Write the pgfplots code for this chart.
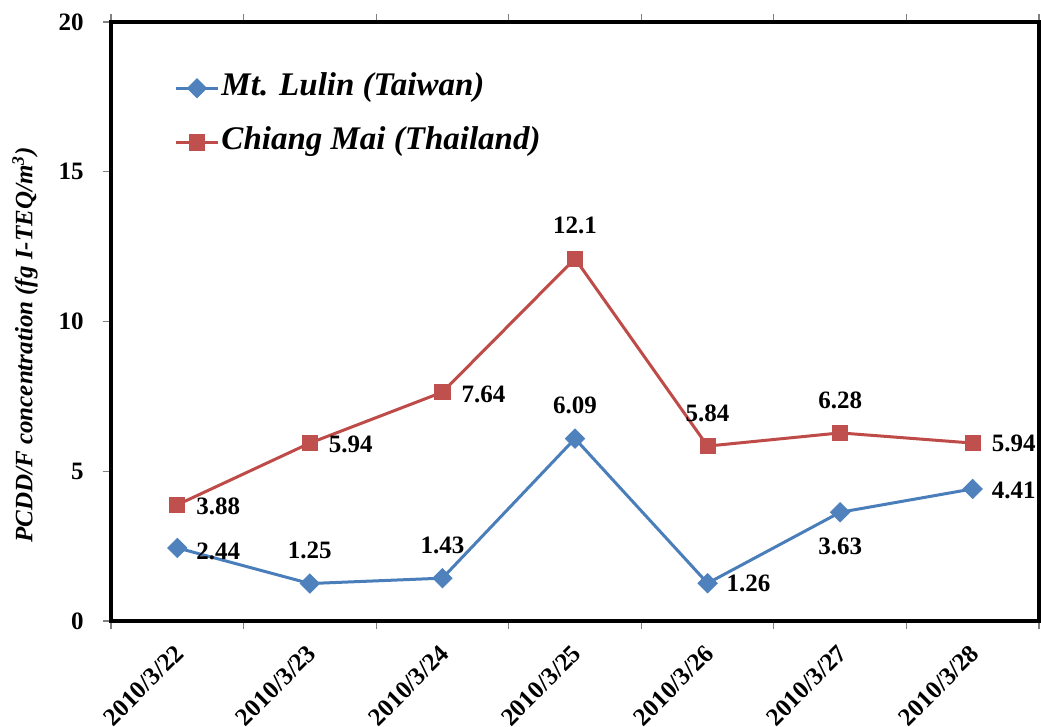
\documentclass[border=0pt]{standalone}
\usepackage{fontspec}
\setmainfont{Liberation Serif}
\usepackage{pgfplots}
\pgfplotsset{compat=1.18}

\definecolor{lulinline}{RGB}{74,126,187}
\definecolor{lulinmark}{RGB}{79,129,189}
\definecolor{cmline}{RGB}{190,75,72}
\definecolor{cmmark}{RGB}{192,80,77}

% columns: day index, concentration, label offset (dx, dy in pt)
\pgfplotstableread{
x y dx dy
0 2.44 20.5 -1.5
1 1.25 0 16.5
2 1.43 0 16.5
3 6.09 0 16.5
4 1.26 20.5 0
5 3.63 0 -17
6 4.41 20.5 -1
}\lulin

\pgfplotstableread{
x y dx dy
0 3.88 20.5 -1
1 5.94 20.5 -0.5
2 7.64 20.5 -1
3 12.1 0 16.5
4 5.84 0 16.5
5 6.28 0 16.5
6 5.94 20.5 0
}\chiangmai

\pgfplotsset{
  value labels/.style={
    nodes near coords,
    visualization depends on={\thisrow{dx}\as\labdx},
    visualization depends on={\thisrow{dy}\as\labdy},
    every node near coord/.append style={font=\bfseries\fontsize{12.5}{15}\selectfont,
      text=black, anchor=center, inner sep=0pt, xshift=\labdx pt, yshift=\labdy pt},
  },
}

\begin{document}
\begin{tikzpicture}
\begin{axis}[
  at={(0,0)}, anchor=south west,
  scale only axis, width=464pt, height=299.5pt,
  xmin=-0.5, xmax=6.5, ymin=0, ymax=20,
  clip=false,
  axis line style={black, line width=1.7pt},
  tick align=outside,
  major tick length=4pt, minor tick length=4pt,
  ytick={0,5,10,15,20},
  xtick={0,...,6},
  xticklabels={2010/3/22,2010/3/23,2010/3/24,2010/3/25,2010/3/26,2010/3/27,2010/3/28},
  minor xtick={-0.5,0.5,...,6.5},
  major x tick style={draw=none},
  minor x tick style={gray, line width=0.6pt},
  major y tick style={gray, line width=0.6pt},
  /pgf/number format/assume math mode=true,
  tick label style={font=\bfseries\fontsize{12.5}{15}\selectfont, inner sep=0pt},
  yticklabel style={anchor=east, xshift=-9.5pt},
  xticklabel style={xshift=-2pt, yshift=-7pt, rotate=45, anchor=north east},
  ylabel={\bfseries\itshape PCDD/F concentration (fg I-TEQ/m\textsuperscript{3})},
  every axis y label/.style={at={(axis description cs:-0.0927,0.4608)}, rotate=90, anchor=center,
    font=\fontsize{12.5}{15}\selectfont},
  legend style={draw=none, fill=none, at={(axis description cs:0.068,0.92)}, anchor=north west,
    inner sep=0pt, row sep=9pt,
    font=\bfseries\itshape\fontsize{16.5}{19}\selectfont,
    nodes={inner sep=1pt, text height=11.5pt, text depth=4.5pt}},
  legend cell align=left,
  legend image code/.code={\draw[mark repeat=2,mark phase=2]
    plot coordinates {(0pt,0pt)(10.5pt,0pt)(21pt,0pt)};},
]
\addplot[color=lulinline, line width=1.5pt, mark=square*, mark size=3.4pt,
  mark options={rotate=45, fill=lulinmark, draw=lulinmark, line width=0.4pt},
  value labels]
  table[x=x, y=y] {\lulin};
\addlegendentry{Mt. Lulin (Taiwan)}
\addplot[color=cmline, line width=1.5pt, mark=square*, mark size=3.8pt,
  mark options={fill=cmmark, draw=cmmark, line width=0.4pt},
  value labels]
  table[x=x, y=y] {\chiangmai};
\addlegendentry{Chiang Mai (Thailand)}
\end{axis}
\pgfresetboundingbox
\path[use as bounding box] (-55.5pt,-53pt) rectangle (465pt,310.5pt);
\end{tikzpicture}
\end{document}
